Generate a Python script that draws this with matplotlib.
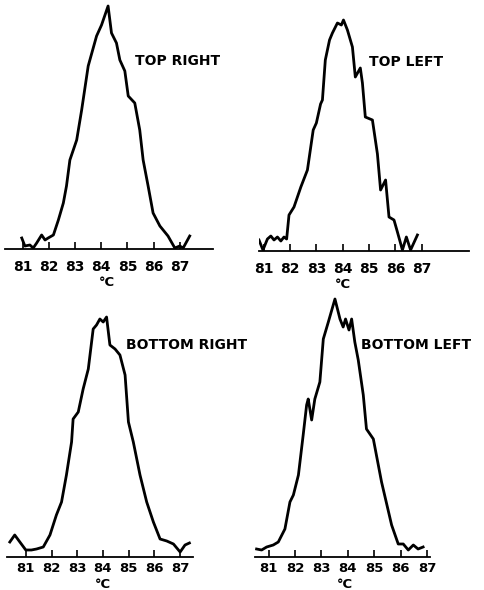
import matplotlib
matplotlib.use("Agg")
import matplotlib.pyplot as plt

# ---------------- data (temperature °C, relative absorbance derivative) ----------------
tr_x = [80.96, 81.08, 81.27, 81.40, 81.53, 81.72, 81.85, 81.97, 82.17, 82.36, 82.55, 82.67,
        82.80, 83.06, 83.25, 83.50, 83.82, 84.01, 84.26, 84.39, 84.58, 84.71, 84.90, 85.03,
        85.28, 85.47, 85.60, 85.79, 85.98, 86.24, 86.55, 86.81, 87.00, 87.13, 87.38]
tr_y = [11, 3, 4, 1, 6, 14, 9, 11, 14, 29, 46, 63, 89, 109, 139, 183, 213, 224, 243, 216,
        206, 189, 178, 153, 146, 119, 89, 63, 36, 23, 13, 1, 3, 1, 13]

tl_x = [80.82, 80.97, 81.14, 81.27, 81.39, 81.52, 81.65, 81.77, 81.87, 81.96, 82.15, 82.41,
        82.66, 82.88, 83.00, 83.16, 83.23, 83.34, 83.50, 83.61, 83.80, 83.95, 84.03, 84.18,
        84.37, 84.48, 84.67, 84.75, 84.86, 85.13, 85.32, 85.44, 85.63, 85.76, 85.95, 86.08,
        86.27, 86.42, 86.58, 86.84]
tl_y = [11, 1, 12, 15, 11, 14, 10, 14, 12, 36, 44, 64, 81, 121, 128, 147, 151, 191, 211,
        218, 228, 226, 231, 221, 204, 174, 183, 168, 134, 131, 97, 61, 71, 34, 31, 19, 1,
        14, 1, 16]

br_x = [80.38, 80.57, 80.77, 81.00, 81.22, 81.42, 81.68, 81.94, 82.19, 82.39, 82.58, 82.78,
        82.84, 83.04, 83.23, 83.43, 83.62, 83.75, 83.88, 84.01, 84.14, 84.27, 84.47, 84.66,
        84.86, 84.99, 85.18, 85.44, 85.70, 85.96, 86.22, 86.48, 86.74, 87.00, 87.19, 87.36]
br_y = [15, 22, 15, 7, 7, 8, 10, 22, 42, 55, 82, 115, 138, 145, 168, 188, 228, 232, 238,
        235, 240, 212, 208, 202, 182, 135, 115, 82, 55, 35, 18, 16, 13, 5, 12, 14]

bl_x = [80.55, 80.74, 80.93, 81.18, 81.37, 81.62, 81.81, 81.94, 82.13, 82.31, 82.44, 82.50,
        82.63, 82.75, 82.94, 83.07, 83.26, 83.51, 83.70, 83.82, 83.91, 84.04, 84.14, 84.26,
        84.39, 84.58, 84.70, 84.96, 85.27, 85.65, 85.90, 86.09, 86.28, 86.47, 86.65, 86.84]
bl_y = [8, 7, 10, 12, 15, 28, 55, 62, 82, 122, 152, 158, 137, 158, 175, 218, 235, 258,
        238, 230, 238, 227, 238, 215, 197, 162, 128, 118, 75, 32, 13, 13, 7, 12, 8, 10]

tick_vals = [81, 82, 83, 84, 85, 86, 87]
tick_labels = ["81", "82", "83", "84", "85", "86", "87"]
titles = ["TOP RIGHT", "TOP LEFT", "BOTTOM RIGHT", "BOTTOM LEFT"]

# ---------------- layout ----------------
W, H = 484, 590
fig = plt.figure(figsize=(W / 100, H / 100), dpi=100)

YTOP = 262  # data units == pixels
panels = [
    # (x, y, title, px_left, px_right, px_axis_y, xlim, title_xy, degC_x, tick pad, degC offset, tick fs)
    (tr_x, tr_y, titles[0], 5, 213, 249, (80.32, 88.27), (85.28, 188), 84.2, 8.0, -33, 10),
    (tl_x, tl_y, titles[1], 259, 469, 251, (80.82, 88.80), (85.00, 189), 84.0, 8.0, -33, 10),
    (br_x, br_y, titles[2], 7, 193, 557, (80.27, 87.50), (84.90, 212), 84.0, 3.5, -27, 9.5),
    (bl_x, bl_y, titles[3], 255, 430, 557, (80.49, 87.10), (84.49, 212), 83.9, 3.5, -27, 9.5),
]

for xs, ys, title, pl, pr, pa, xlim, txy, cx, tpad, coff, tfs in panels:
    ax = fig.add_axes([pl / W, (H - pa) / H, (pr - pl) / W, YTOP / H])
    ax.plot(xs, ys, color="black", lw=2.0, solid_joinstyle="round")
    ax.set_xlim(*xlim)
    ax.set_ylim(0, YTOP)
    for s in ("top", "right", "left"):
        ax.spines[s].set_visible(False)
    ax.spines["bottom"].set_linewidth(1.3)
    ax.set_yticks([])
    ax.set_xticks(tick_vals)
    ax.set_xticklabels(tick_labels, fontsize=tfs, fontweight="bold",
                       family="DejaVu Sans")
    ax.tick_params(axis="x", direction="in", length=5, width=1.2, pad=tpad)
    ax.text(txy[0], txy[1], title, fontsize=10, fontweight="bold",
            family="DejaVu Sans", va="center", ha="left", clip_on=False)
    ax.text(cx, coff, "°C", fontsize=9.5, fontweight="bold", family="DejaVu Sans",
            ha="center", va="center", clip_on=False)

fig.savefig("out.png", dpi=100, facecolor="white")
